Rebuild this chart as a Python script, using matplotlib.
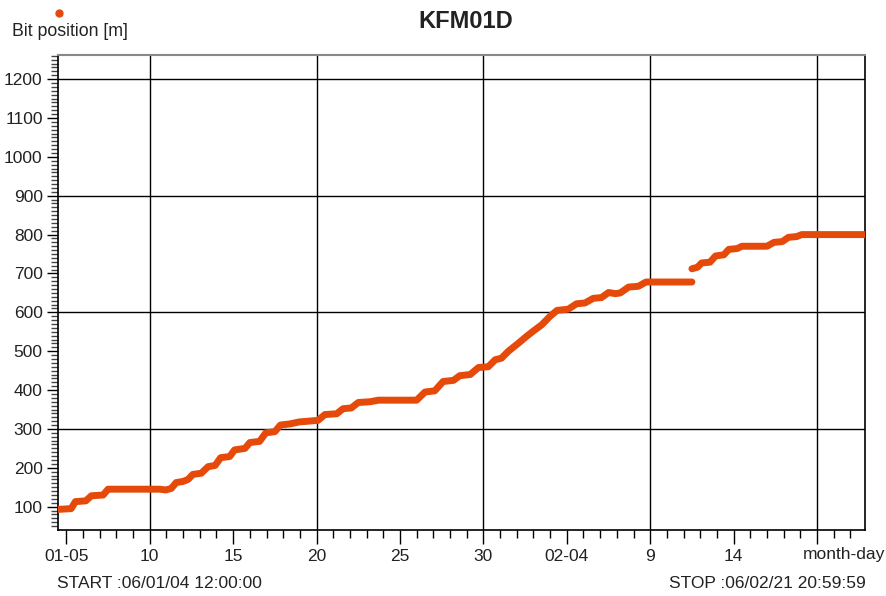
import matplotlib
matplotlib.use("Agg")
import matplotlib.pyplot as plt
import matplotlib.dates as mdates
from matplotlib.lines import Line2D
import pandas as pd

plt.rcParams["font.family"] = ["Liberation Sans", "DejaVu Sans"]

# bit position before the gap
times_a = [
    "2006-01-04 12:00", "2006-01-05 07:00", "2006-01-05 13:00", "2006-01-06 04:00",
    "2006-01-06 12:00", "2006-01-07 05:00", "2006-01-07 12:00", "2006-01-10 14:00",
    "2006-01-10 23:00", "2006-01-11 07:00", "2006-01-11 14:00", "2006-01-12 00:00",
    "2006-01-12 07:00", "2006-01-12 14:00", "2006-01-13 02:00", "2006-01-13 12:00",
    "2006-01-13 22:00", "2006-01-14 06:00", "2006-01-14 19:00", "2006-01-15 02:00",
    "2006-01-15 17:00", "2006-01-16 00:00", "2006-01-16 14:00", "2006-01-16 23:00",
    "2006-01-17 12:00", "2006-01-17 20:00", "2006-01-18 10:00", "2006-01-18 23:00",
    "2006-01-19 19:00", "2006-01-20 02:00", "2006-01-20 12:00", "2006-01-21 05:00",
    "2006-01-21 14:00", "2006-01-22 02:00", "2006-01-22 12:00", "2006-01-23 05:00",
    "2006-01-23 17:00", "2006-01-26 00:00", "2006-01-26 12:00", "2006-01-27 02:00",
    "2006-01-27 14:00", "2006-01-28 05:00", "2006-01-28 14:00", "2006-01-29 05:00",
    "2006-01-29 17:00", "2006-01-30 07:00", "2006-01-30 17:00", "2006-01-31 02:00",
    "2006-01-31 12:00", "2006-02-01 02:00", "2006-02-01 14:00", "2006-02-02 00:00",
    "2006-02-02 12:00", "2006-02-03 00:00", "2006-02-03 10:00", "2006-02-04 02:00",
    "2006-02-04 14:00", "2006-02-05 02:00", "2006-02-05 14:00", "2006-02-06 02:00",
    "2006-02-06 12:00", "2006-02-06 22:00", "2006-02-07 05:00", "2006-02-07 17:00",
    "2006-02-08 07:00", "2006-02-08 18:00", "2006-02-11 12:00",
]
depth_a = [
    93, 95, 113, 115, 128, 130, 145, 145,
    143, 147, 162, 165, 170, 183, 186, 203,
    206, 226, 229, 246, 250, 265, 268, 290,
    293, 310, 313, 318, 321, 322, 337, 339,
    352, 354, 368, 370, 374, 374, 395, 398,
    422, 425, 437, 440, 458, 460, 478, 482,
    500, 520, 538, 552, 568, 590, 605, 608,
    622, 624, 636, 638, 651, 648, 650, 665,
    667, 678, 678,
]

# bit position after the gap
times_b = [
    "2006-02-11 12:00", "2006-02-11 20:00", "2006-02-12 02:00", "2006-02-12 14:00",
    "2006-02-12 22:00", "2006-02-13 10:00", "2006-02-13 17:00", "2006-02-14 05:00",
    "2006-02-14 12:00", "2006-02-16 00:00", "2006-02-16 10:00", "2006-02-16 22:00",
    "2006-02-17 07:00", "2006-02-17 19:00", "2006-02-18 02:00", "2006-02-21 21:00",
]
depth_b = [
    712, 716, 727, 729, 745, 748, 762, 764,
    770, 770, 780, 782, 793, 795, 800, 800,
]

major_ticks = ["2006-01-05", "2006-01-10", "2006-01-15", "2006-01-20", "2006-01-25",
               "2006-01-30", "2006-02-04", "2006-02-09", "2006-02-14", "2006-02-19"]
major_labels = ["01-05", "10", "15", "20", "25", "30", "02-04", "9", "14", ""]
grid_days = ["2006-01-10", "2006-01-20", "2006-01-30", "2006-02-09", "2006-02-19"]
grid_depths = [300, 600, 900, 1200]

start = pd.Timestamp("2006-01-04 12:00:00")
stop = pd.Timestamp("2006-02-21 20:59:59")
line_color = "#e64a0a"
text_color = "#222222"

fig = plt.figure(figsize=(8.86, 5.96), dpi=100)
ax = fig.add_axes([58 / 886, 1 - 530 / 596, (865 - 58) / 886, (530 - 55) / 596])

for t, d in ((times_a, depth_a), (times_b, depth_b)):
    ax.plot(pd.to_datetime(t), d, color=line_color, lw=5,
            solid_capstyle="round", solid_joinstyle="round", zorder=3)

for g in grid_days:
    ax.axvline(pd.Timestamp(g), color="black", lw=1.0, zorder=1)
for g in grid_depths:
    ax.axhline(g, color="black", lw=1.0, zorder=1)

ax.set_xlim(start, stop)
ax.set_ylim(40, 1262)

ax.set_xticks(pd.to_datetime(major_ticks))
ax.set_xticklabels(major_labels)
minor_days = pd.date_range("2006-01-05", "2006-02-21", freq="D")
ax.set_xticks(mdates.date2num(minor_days), minor=True)
ax.set_yticks(range(100, 1201, 100))
ax.set_yticks(range(50, 1261, 10), minor=True)

ax.tick_params(axis="both", which="major", direction="out", labelsize=12.5,
               labelcolor=text_color, width=1.0)
ax.tick_params(axis="x", which="major", length=10, pad=4)
ax.tick_params(axis="x", which="minor", length=6, width=1.0)
ax.tick_params(axis="y", which="major", length=8, pad=3)
ax.tick_params(axis="y", which="minor", length=5, width=1.0, color="#444444")

for side in ("left", "bottom", "right"):
    ax.spines[side].set_color("black")
    ax.spines[side].set_linewidth(1.2)
ax.spines["top"].set_color("#888888")
ax.spines["top"].set_linewidth(1.5)

fig.text(466 / 886, 1 - 22 / 596, "KFM01D", ha="center", va="center",
         fontsize=17, fontweight="bold", color=text_color)
fig.add_artist(Line2D([59 / 886], [1 - 13 / 596], marker="o", ms=5,
                      color=line_color, linestyle="none", transform=fig.transFigure))
fig.text(12 / 886, 1 - 32 / 596, "Bit position [m]", ha="left", va="center",
         fontsize=12.8, color=text_color)
fig.text(885 / 886, 1 - 555 / 596, "month-day", ha="right", va="center",
         fontsize=12.5, color=text_color)
fig.text(57 / 886, 1 - 584 / 596, "START :06/01/04 12:00:00", ha="left", va="center",
         fontsize=12.5, color=text_color)
fig.text(866 / 886, 1 - 584 / 596, "STOP :06/02/21 20:59:59", ha="right", va="center",
         fontsize=12.5, color=text_color)

fig.savefig("out.png", dpi=100)
plt.close(fig)
